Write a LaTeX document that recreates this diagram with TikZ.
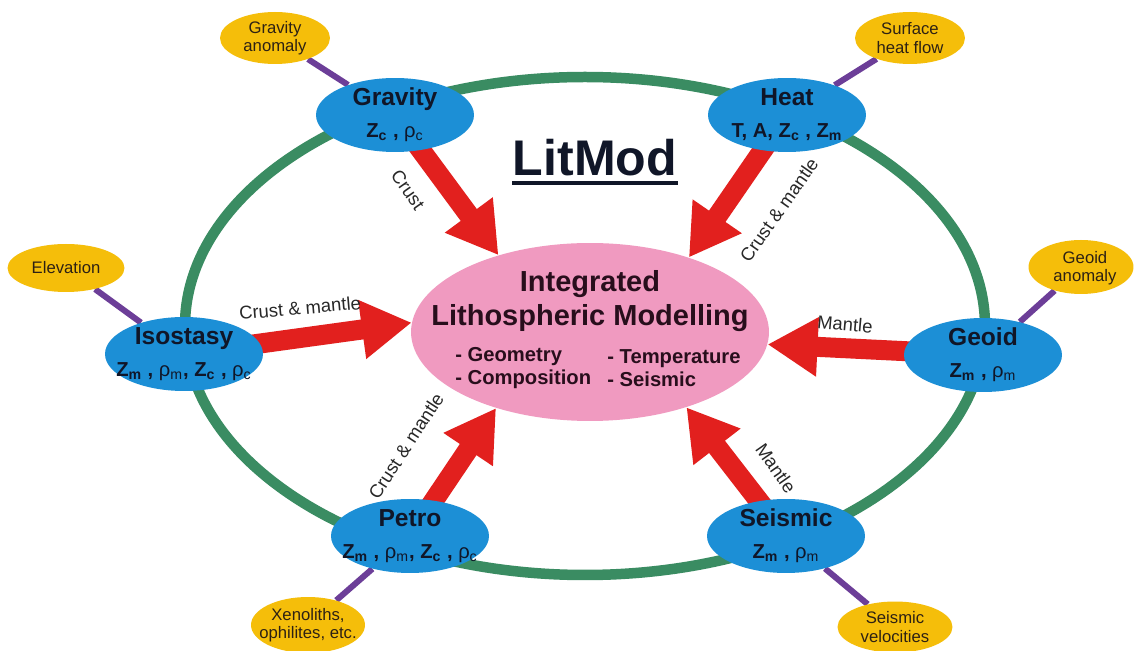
\documentclass[tikz,border=0pt]{standalone}
\usepackage{fontspec}
\setmainfont{Liberation Sans}
\usetikzlibrary{arrows.meta,shapes.geometric}
\pgfdeclarelayer{back}
\pgfdeclarelayer{mid}
\pgfsetlayers{back,mid,main}
\definecolor{ringgreen}{RGB}{58,140,98}
\definecolor{nodeblue}{RGB}{28,143,214}
\definecolor{leafyellow}{RGB}{245,190,10}
\definecolor{stempurple}{RGB}{108,62,152}
\definecolor{arrowred}{RGB}{226,32,30}
\definecolor{corepink}{RGB}{240,154,192}
\definecolor{navytext}{RGB}{16,22,40}
\definecolor{leaftext}{RGB}{45,33,20}
\definecolor{labelgrey}{RGB}{40,40,40}
\definecolor{pinktext}{RGB}{40,14,28}
\newcommand\Zsub[1]{Z\textsubscript{#1}}
\newcommand\Rsub[1]{{\mdseries ρ\textsubscript{#1}}}
\begin{document}
\begin{tikzpicture}[x=0.02cm,y=-0.02cm,
  blueell/.style={ellipse,fill=nodeblue,minimum width=3.16cm,minimum height=1.48cm,inner sep=0pt},
  bluetxt/.style={align=center,text=navytext,inner sep=0pt,font=\fontsize{14}{18}\selectfont\bfseries},
  yelell/.style={ellipse,fill=leafyellow,minimum width=2.2cm,minimum height=1.04cm,inner sep=0pt},
  yeltxt/.style={align=center,text=leaftext,inner sep=0pt,font=\fontsize{9.5}{10.5}\selectfont},
  stem/.style={draw=stempurple,line width=0.12cm},
  feed/.style={draw=arrowred,line width=0.4cm,-{Triangle[length=1cm,width=1.12cm]}},
  flowlabel/.style={text=labelgrey,inner sep=0pt,font=\fontsize{10.5}{12}\selectfont},
  pinktxt/.style={text=pinktext,inner sep=0pt},
  greenring/.style={draw=ringgreen,line width=0.21cm}]
\useasboundingbox (0,0) rectangle (1134,651);

\begin{pgfonlayer}{back}
\fill[white] (0,0) rectangle (1134,651);
\draw[greenring] (585,326) ellipse [x radius=400, y radius=249];
\end{pgfonlayer}

% central node
\node[ellipse,fill=corepink,minimum width=7.16cm,minimum height=3.56cm,inner sep=0pt] (lith) at (590,332) {};
\node[pinktxt,align=center,font=\fontsize{16.5}{19.3}\selectfont\bfseries] (title) at (590,301) {Integrated\\Lithospheric Modelling};
\node[pinktxt,align=left,anchor=west,font=\fontsize{11.5}{13}\selectfont\bfseries] (colA) at (455,368) {- Geometry\\- Composition};
\node[pinktxt,align=left,anchor=west,font=\fontsize{11.5}{13}\selectfont\bfseries] (colB) at (607,368) {- Temperature\\- Seismic};

% title
\node[inner sep=0pt,anchor=base,text=navytext,font=\fontsize{28.5}{34}\selectfont\bfseries] (litmod) at (595,176) {LitMod};
\coordinate (ulA) at (512,183);
\coordinate (ulB) at (678,183);
\draw[navytext,line width=0.07cm] (ulA) -- (ulB);

% blue method nodes
\node[blueell] (grav) at (395,115) {};
\node[bluetxt] (gravt) at (grav) {Gravity\\{\fontsize{11.5}{18}\selectfont\Zsub{c} , \Rsub{c}}};
\node[blueell] (heat) at (787,115) {};
\node[bluetxt] (heatt) at (heat) {Heat\\{\fontsize{11.5}{18}\selectfont T, A, \Zsub{c} , \Zsub{m}}};
\node[blueell] (iso) at (184,354) {};
\node[bluetxt] (isot) at (iso) {Isostasy\\{\fontsize{11.5}{18}\selectfont\Zsub{m} , \Rsub{m}, \Zsub{c} , \Rsub{c}}};
\node[blueell] (geoid) at (983,355) {};
\node[bluetxt] (geoidt) at (geoid) {Geoid\\{\fontsize{11.5}{18}\selectfont\Zsub{m} , \Rsub{m}}};
\node[blueell] (petro) at (410,536) {};
\node[bluetxt] (petrot) at (petro) {Petro\\{\fontsize{11.5}{18}\selectfont\Zsub{m} , \Rsub{m}, \Zsub{c} , \Rsub{c}}};
\node[blueell] (seis) at (786,536) {};
\node[bluetxt] (seist) at (seis) {Seismic\\{\fontsize{11.5}{18}\selectfont\Zsub{m} , \Rsub{m}}};

% yellow data nodes
\node[yelell] (ganom) at (275,38) {};
\node[yeltxt] (ganomt) at (ganom) {Gravity\\anomaly};
\node[yelell] (shf) at (910,38) {};
\node[yeltxt] (shft) at (shf) {Surface\\heat flow};
\node[yelell,minimum width=2.34cm,minimum height=0.96cm] (elev) at (66,268) {};
\node[yeltxt] (elevt) at (elev) {Elevation};
\node[yelell,minimum width=2.1cm,minimum height=1.08cm] (geanom) at (1081,267) {};
\node[yeltxt] (geanomt) at (1085,268) {Geoid\\anomaly};
\node[yelell,minimum width=2.28cm,minimum height=1.12cm] (xeno) at (308,625) {};
\node[yeltxt] (xenot) at (xeno) {Xenoliths,\\ophilites, etc.};
\node[yelell,minimum width=2.3cm,minimum height=1.02cm] (svel) at (895,627) {};
\node[yeltxt] (svelt) at (svel) {Seismic\\velocities};

\begin{pgfonlayer}{mid}
\draw[stem] (ganom) -- (grav);
\draw[stem] (shf) -- (heat);
\draw[stem] (elev) -- (iso);
\draw[stem] (geanom) -- (geoid);
\draw[stem] (xeno) -- (petro);
\draw[stem] (svel) -- (seis);
\draw[feed] (grav.center) -- (lith.140);
\draw[feed] (heat.center) -- (lith.37);
\draw[feed] (iso.center) -- (lith.177);
\draw[feed] (geoid.center) -- (lith.-4);
\draw[feed] (petro.center) -- (lith.-141);
\draw[feed] (seis.center) -- (lith.-38);
\end{pgfonlayer}

% arrow labels
\node[flowlabel,rotate=-55] (lab1) at (408,190) {Crust};
\node[flowlabel,rotate=55] (lab2) at (779,210) {Crust \& mantle};
\node[flowlabel,rotate=5] (lab3) at (300,308) {Crust \& mantle};
\node[flowlabel,rotate=-5] (lab4) at (845,324) {Mantle};
\node[flowlabel,rotate=57] (lab5) at (406,446) {Crust \& mantle};
\node[flowlabel,rotate=-55] (lab6) at (776,468) {Mantle};
\end{tikzpicture}
\end{document}
